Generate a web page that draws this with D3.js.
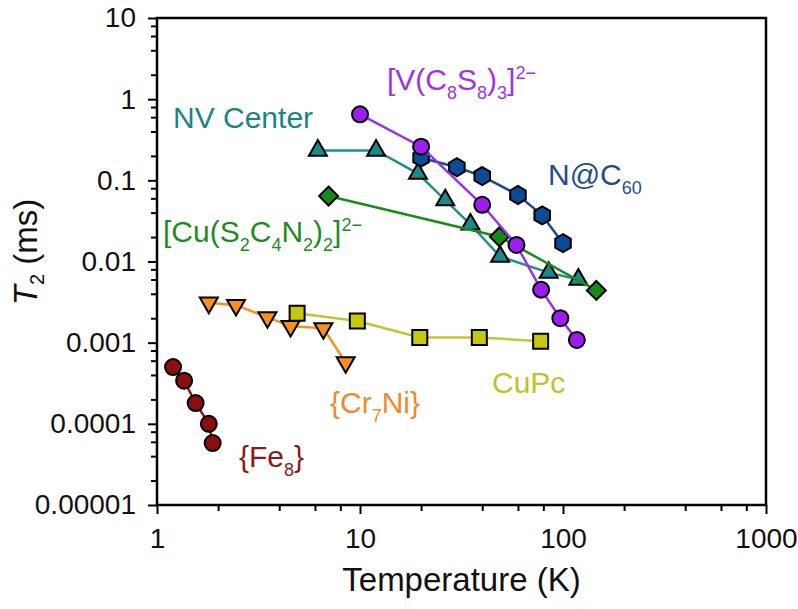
<!DOCTYPE html>
<html><head><meta charset="utf-8">
<script src="https://cdn.jsdelivr.net/npm/d3@7"></script>
<style>body{margin:0;background:#fff;} text{font-family:Arial,"Liberation Sans",sans-serif;}</style>
</head><body>
<svg id="c" width="798" height="609"></svg>
<script>
// ---- data (T in K, T2 in ms) ----
const fe8T   = [1.2, 1.36, 1.55, 1.8, 1.88];
const fe8T2  = [5.0e-4, 3.4e-4, 1.8e-4, 1.0e-4, 5.8e-5];
const cr7niT  = [1.8, 2.45, 3.5, 4.55, 6.6, 8.5];
const cr7niT2 = [3.1e-3, 2.9e-3, 2.05e-3, 1.6e-3, 1.5e-3, 5.7e-4];
const cupcT  = [4.9, 9.7, 19.7, 38.7, 77.6];
const cupcT2 = [2.3e-3, 1.85e-3, 1.16e-3, 1.16e-3, 1.04e-3];
const nvT  = [6.2, 12, 19.3, 26.3, 35, 49, 85, 119];
const nvT2 = [0.233, 0.233, 0.121, 0.057, 0.0287, 0.0115, 0.0073, 0.006];
const cuT  = [7, 48.6, 146];
const cuT2 = [0.064, 0.0202, 0.0044];
const nc60T  = [20, 30, 40, 60, 79, 100];
const nc60T2 = [0.19, 0.145, 0.113, 0.066, 0.037, 0.0168];
const vT  = [10, 20, 40, 59, 78, 97, 117];
const vT2 = [0.65, 0.26, 0.05, 0.016, 0.0045, 0.002, 0.00108];
const xMajor = [1, 10, 100, 1000];
const xMajorLabels = ["1", "10", "100", "1000"];
const yMajor = [1e-5, 1e-4, 1e-3, 1e-2, 1e-1, 1, 10];
const yMajorLabels = ["0.00001", "0.0001", "0.001", "0.01", "0.1", "1", "10"];

const svg = d3.select("#c");
const x = d3.scaleLog().domain([1, 1000]).range([157, 766]);
const y = d3.scaleLog().domain([1e-5, 10]).range([505, 18]);

function minors(domain) {
  const out = [];
  for (let d = domain[0]; d < domain[1]; d *= 10) [2,4,6,8].forEach(m => out.push(d*m));
  return out;
}

// axes
const gx = svg.append("g").attr("transform", `translate(0,${y.range()[0]})`);
gx.call(d3.axisBottom(x).tickValues(minors(x.domain())).tickSize(6).tickFormat(""));
const gx2 = svg.append("g").attr("transform", `translate(0,${y.range()[0]})`);
gx2.call(d3.axisBottom(x).tickValues(xMajor).tickSize(9).tickPadding(14)
  .tickFormat((d,i) => xMajorLabels[i]));
const gy = svg.append("g").attr("transform", `translate(${x.range()[0]},0)`);
gy.call(d3.axisLeft(y).tickValues(minors(y.domain())).tickSize(6).tickFormat(""));
const gy2 = svg.append("g").attr("transform", `translate(${x.range()[0]},0)`);
gy2.call(d3.axisLeft(y).tickValues(yMajor).tickSize(9).tickPadding(12)
  .tickFormat((d,i) => yMajorLabels[i]));
svg.selectAll(".domain").remove();
svg.selectAll(".tick line").attr("stroke", "#000").attr("stroke-width", 2);
svg.selectAll(".tick text").attr("font-size", 28).attr("fill", "#111")
  .attr("font-family", "Arial, 'Liberation Sans', sans-serif");

// frame
svg.append("rect")
  .attr("x", x.range()[0]).attr("y", y.range()[1])
  .attr("width", x.range()[1] - x.range()[0]).attr("height", y.range()[0] - y.range()[1])
  .attr("fill", "none").attr("stroke", "#000").attr("stroke-width", 2.5);

// axis titles
svg.append("text").attr("x", (x.range()[0] + x.range()[1]) / 2).attr("y", 591)
  .attr("text-anchor", "middle").attr("font-size", 33).attr("fill", "#111")
  .text("Temperature (K)");
const yt = svg.append("text").attr("transform", `translate(37,252) rotate(-90)`)
  .attr("text-anchor", "middle").attr("font-size", 33).attr("fill", "#111");
yt.append("tspan").attr("font-style", "italic").text("T");
yt.append("tspan").attr("font-size", 20).attr("dy", 7).text("2");
yt.append("tspan").attr("dy", -7).text(" (ms)");

// marker shapes
const shapes = {
  circle: r => `M${r},0A${r},${r} 0 1,1 ${-r},0A${r},${r} 0 1,1 ${r},0Z`,
  square: r => `M${-r},${-r}H${r}V${r}H${-r}Z`,
  triUp: r => { const h = r*1.732; return `M0,${-h*2/3}L${r},${h/3}L${-r},${h/3}Z`; },
  triDown: r => { const h = r*1.732; return `M0,${h*2/3}L${r},${-h/3}L${-r},${-h/3}Z`; },
  diamond: r => `M0,${-r}L${r},0L0,${r}L${-r},0Z`,
  hex: r => d3.range(6).map(i => { const a = Math.PI/3*i - Math.PI/2; return (i?"L":"M") + (r*Math.cos(a)).toFixed(2) + "," + (r*Math.sin(a)).toFixed(2); }).join("") + "Z"
};

const series = [
  {T: fe8T, V: fe8T2, line: "#8b1a1a", fill: "#8b0f0f", shape: "circle", r: 8},
  {T: cr7niT, V: cr7niT2, line: "#f7901e", fill: "#f7901e", shape: "triDown", r: 9},
  {T: cupcT, V: cupcT2, line: "#c3c434", fill: "#c8c80a", shape: "square", r: 7.5},
  {T: nvT, V: nvT2, line: "#1e9090", fill: "#1c8a8a", shape: "triUp", r: 9},
  {T: cuT, V: cuT2, line: "#1a8c1a", fill: "#168a16", shape: "diamond", r: 9.5},
  {T: nc60T, V: nc60T2, line: "#1a4c8c", fill: "#0b4a94", shape: "hex", r: 9},
  {T: vT, V: vT2, line: "#9b30e8", fill: "#9d1cf0", shape: "circle", r: 8}
];

const lineGen = d3.line().x(d => x(d[0])).y(d => y(d[1]));
series.forEach(s => {
  const pts = s.T.map((t, i) => [t, s.V[i]]);
  svg.append("path").attr("d", lineGen(pts)).attr("fill", "none")
    .attr("stroke", s.line).attr("stroke-width", 2.5);
  svg.append("g").selectAll("path").data(pts).join("path")
    .attr("transform", d => `translate(${x(d[0])},${y(d[1])})`)
    .attr("d", shapes[s.shape](s.r))
    .attr("fill", s.fill).attr("stroke", "#000").attr("stroke-width", 2);
});

// series labels
const labels = [
  {parts: [["NV Center"]], color: "#1a8585", x: 173, y: 128},
  {parts: [["[V(C"], ["8","sub"], ["S"], ["8","sub"], [")"], ["3","sub"], ["]"], ["2−","sup"]], color: "#a033e0", x: 387, y: 90},
  {parts: [["N@C"], ["60","sub"]], color: "#1f4e8c", x: 548, y: 185},
  {parts: [["[Cu(S"], ["2","sub"], ["C"], ["4","sub"], ["N"], ["2","sub"], [")"], ["2","sub"], ["]"], ["2−","sup"]], color: "#1e8c1e", x: 163, y: 242},
  {parts: [["CuPc"]], color: "#c2c22a", x: 492, y: 393},
  {parts: [["{Cr"], ["7","sub"], ["Ni}"]], color: "#f08a2c", x: 330, y: 413},
  {parts: [["{Fe"], ["8","sub"], ["}"]], color: "#8b1a1a", x: 239, y: 467}
];
labels.forEach(L => {
  const t = svg.append("text").attr("x", L.x).attr("y", L.y).attr("font-size", 30).attr("fill", L.color);
  let cur = 0;
  L.parts.forEach(p => {
    const target = p[1] === "sub" ? 9 : p[1] === "sup" ? -11 : 0;
    const ts = t.append("tspan").attr("dy", target - cur).text(p[0]);
    if (p[1]) ts.attr("font-size", 18);
    cur = target;
  });
});
</script>
</body></html>
